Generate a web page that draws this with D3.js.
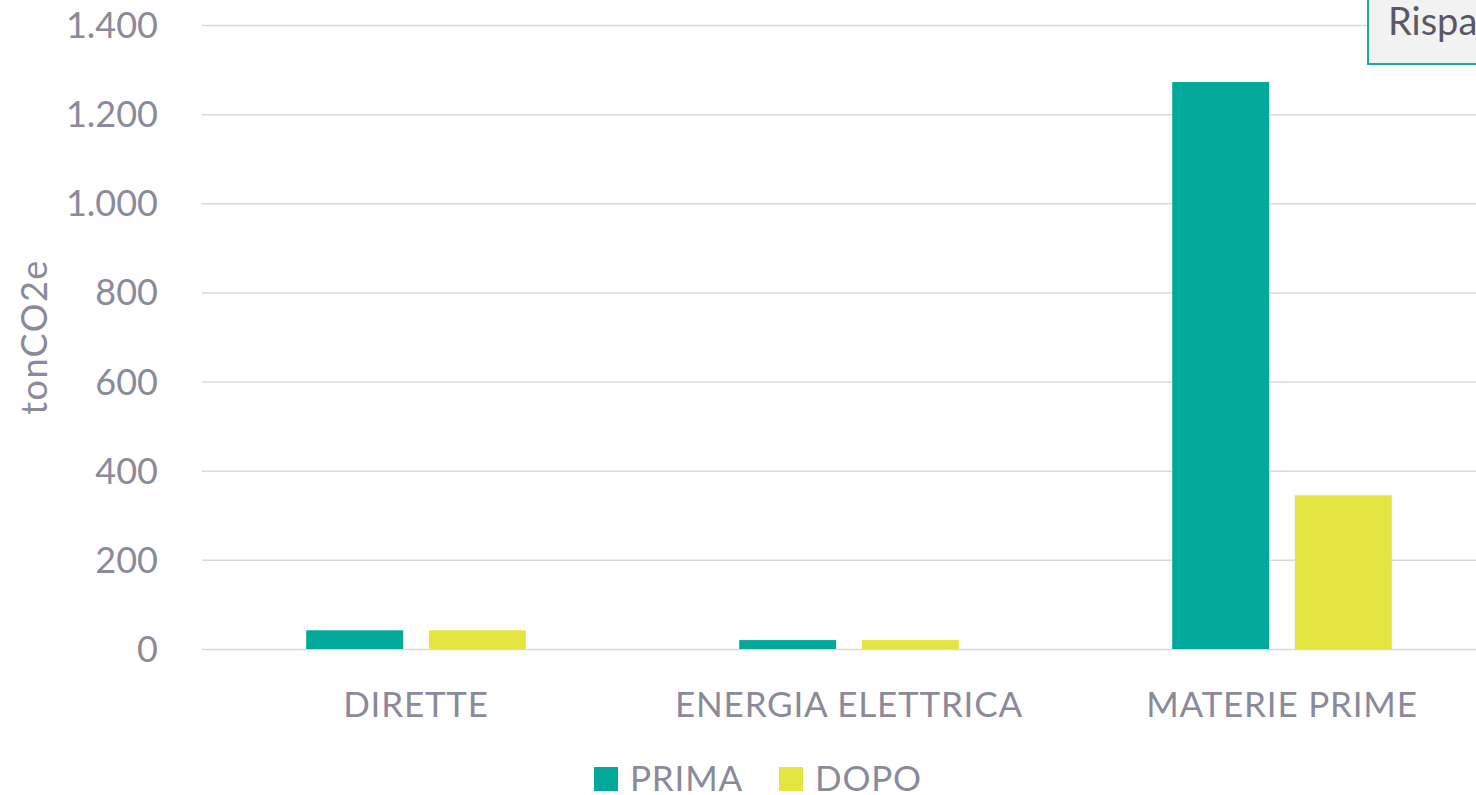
<!DOCTYPE html>
<html>
<head>
<meta charset="utf-8">
<script src="https://d3js.org/d3.v7.min.js"></script>
<style>
  body { margin: 0; background: #fff; font-family: "Lato", "Open Sans", sans-serif; overflow: hidden; }
  .grid line { stroke: #d9d9d9; stroke-width: 1.5; }
  .grid .domain { display: none; }
</style>
</head>
<body>
<script>
const categories = ["DIRETTE", "ENERGIA ELETTRICA", "MATERIE PRIME"];
const series = ["PRIMA", "DOPO"];
const prima = [42, 20, 1272];
const dopo = [42, 20, 345];
const yTicks = [0, 200, 400, 600, 800, 1000, 1200, 1400];
const colors = ["#02a99b", "#e5e541"];

const W = 1476, H = 795;
const svg = d3.select("body").append("svg").attr("width", W).attr("height", H);

const x0 = d3.scaleBand().domain(categories).range([199.5, 1498.5]).padding(0);
const x1 = d3.scaleBand().domain(series).range([0, x0.bandwidth()]).paddingInner(0.21).paddingOuter(0.87);
const y = d3.scaleLinear().domain([0, 1400]).range([649, 25]);

// gridlines
svg.append("g").attr("class", "grid")
  .attr("transform", "translate(202,0)")
  .call(d3.axisLeft(y).tickValues(yTicks).tickSize(-(W - 202)).tickFormat(""));

// y tick labels
const fmt = d3.formatLocale({decimal: ",", thousands: ".", grouping: [3], currency: ["", ""]}).format(",");
svg.append("g").selectAll("text").data(yTicks).enter().append("text")
  .attr("x", 158).attr("y", d => y(d)).attr("dy", "0.36em")
  .attr("text-anchor", "end").attr("fill", "#8a8a9a").attr("font-size", 36)
  .text(d => fmt(d));

// axis title
svg.append("text")
  .attr("transform", "translate(47,337) rotate(-90)")
  .attr("text-anchor", "middle").attr("fill", "#8a8a9a").attr("font-size", 36)
  .attr("letter-spacing", 1.5)
  .text("tonCO2e");

// bars
const rows = categories.map((c, i) => ({cat: c, vals: [prima[i], dopo[i]]}));
const g = svg.append("g").selectAll("g").data(rows).enter().append("g")
  .attr("transform", d => "translate(" + x0(d.cat) + ",0)");
g.selectAll("rect").data(d => d.vals.map((v, j) => ({s: series[j], v: v, j: j}))).enter().append("rect")
  .attr("x", d => x1(d.s)).attr("width", x1.bandwidth())
  .attr("y", d => y(d.v)).attr("height", d => y(0) - y(d.v))
  .attr("fill", d => colors[d.j]);

// category labels
svg.append("g").selectAll("text").data(categories).enter().append("text")
  .attr("x", d => x0(d) + x0.bandwidth() / 2).attr("y", 717)
  .attr("text-anchor", "middle").attr("fill", "#8a8a9a").attr("font-size", 35)
  .attr("letter-spacing", 0.8)
  .text(d => d);

// legend
const legX = [594, 779];
const leg = svg.append("g").selectAll("g").data(series).enter().append("g")
  .attr("transform", (d, i) => "translate(" + legX[i] + ",767)");
leg.append("rect").attr("width", 24).attr("height", 24).attr("fill", (d, i) => colors[i]);
leg.append("text").attr("x", 36).attr("y", 24).attr("fill", "#8a8a9a").attr("font-size", 35)
  .attr("letter-spacing", 0.8).text(d => d);

// text box at top right
svg.append("rect").attr("x", 1368).attr("y", -10).attr("width", 200).attr("height", 74)
  .attr("fill", "#f2f2f2").attr("stroke", "#1aab9b").attr("stroke-width", 2);
svg.append("text").attr("x", 1388).attr("y", 35).attr("fill", "#595966").attr("font-size", 38)
  .text("Risparmio");
</script>
</body>
</html>
